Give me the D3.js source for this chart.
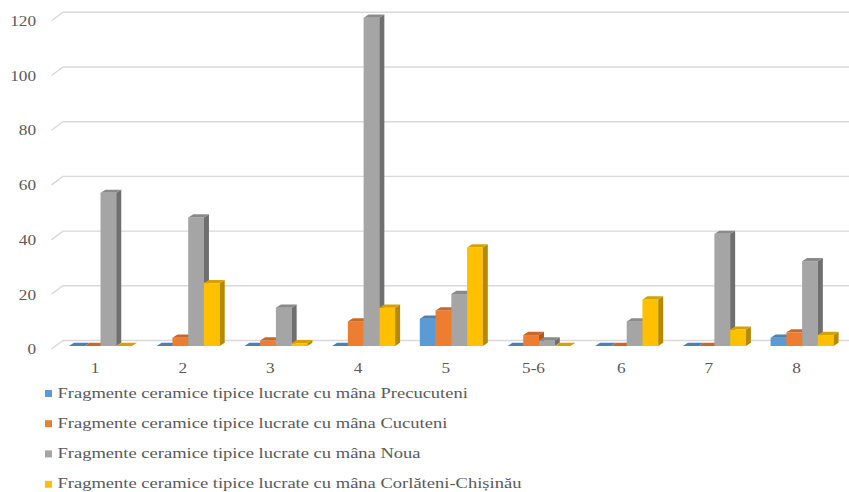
<!DOCTYPE html>
<html>
<head>
<meta charset="utf-8">
<script src="https://cdn.jsdelivr.net/npm/d3@7"></script>
<style>
  html, body { margin: 0; padding: 0; background: #ffffff; }
  svg { display: block; }
  svg text { font-family: "Liberation Serif", "Tinos", "Times New Roman", "DejaVu Serif", serif; }
</style>
</head>
<body>
<svg id="chart" width="849" height="492"></svg>
<script>
const categories = ["1", "2", "3", "4", "5", "5-6", "6", "7", "8"];
const seriesNames = [
  "Fragmente ceramice tipice lucrate cu mâna Precucuteni",
  "Fragmente ceramice tipice lucrate cu mâna Cucuteni",
  "Fragmente ceramice tipice lucrate cu mâna Noua",
  "Fragmente ceramice tipice lucrate cu mâna Corlăteni-Chișinău"
];
const precucuteni = [0, 0, 0, 0, 10, 0, 0, 0, 3];
const cucuteni    = [0, 3, 2, 9, 13, 4, 0, 0, 5];
const noua        = [56, 47, 14, 120, 19, 2, 9, 41, 31];
const corlateni   = [0, 23, 1, 14, 36, 0, 17, 6, 4];
const yTicks = [0, 20, 40, 60, 80, 100, 120];

const seriesValues = [precucuteni, cucuteni, noua, corlateni];
const frontColors = ["#5b9bd5", "#ed7d31", "#a5a5a5", "#ffc000"];
const topColors   = ["#4b81b3", "#c8692a", "#8a8a8a", "#d6a200"];
const sideColors  = ["#41719c", "#ad5a21", "#6f6f6f", "#b68a00"];

const svg = d3.select("#chart");
const textColor = "#595959";

const step = 87.7;
const x0 = 56.65;
const x = d3.scaleBand().domain(categories).range([x0, x0 + step * categories.length]).padding(0);
const groupW = 63;
const x1 = d3.scaleBand().domain(d3.range(4)).range([(step - groupW) / 2, (step + groupW) / 2]).padding(0);
const y = d3.scaleLinear().domain([0, 120]).range([346, 17.8]);

const backDy = -5.5, frontDy = 3;
const wallLeft = 63, floorLeft = 51.5;

// gridlines
const grid = svg.append("g");
yTicks.forEach(t => {
  const yb = y(t) + backDy, yf = y(t) + frontDy;
  grid.append("path")
    .attr("d", `M${floorLeft},${yf}L${wallLeft},${yb}L849,${yb}`)
    .attr("fill", "none").attr("stroke", "#d9d9d9").attr("stroke-width", 1.4);
});

// y labels
const sxAxis = 1.15;
yTicks.forEach(t => {
  svg.append("text")
    .attr("transform", `translate(36,${y(t) + frontDy}) scale(${sxAxis},1)`)
    .attr("text-anchor", "end").attr("dy", "0.35em")
    .attr("font-size", 15)
    .attr("fill", textColor).text(t);
});

// x labels
categories.forEach(c => {
  svg.append("text")
    .attr("transform", `translate(${x(c) + x.bandwidth() / 2 - 5.5},${368}) scale(${sxAxis},1)`)
    .attr("text-anchor", "middle").attr("dy", "0.35em")
    .attr("font-size", 15)
    .attr("fill", textColor).text(c);
});

// bars (3D)
const dx = 5, dz = 3.2;
const base = y(0);
const bars = svg.append("g");
categories.forEach((c, ci) => {
  seriesValues.forEach((vals, si) => {
    const v = vals[ci];
    const bx = x(c) + x1(si);
    const w = x1.bandwidth();
    const yt = y(v);
    if (v > 0) {
      bars.append("rect").attr("x", bx).attr("y", yt).attr("width", w).attr("height", base - yt)
        .attr("fill", frontColors[si]);
      bars.append("path")
        .attr("d", `M${bx + w},${yt}L${bx + w + dx},${yt - dz}L${bx + w + dx},${base - dz}L${bx + w},${base}Z`)
        .attr("fill", sideColors[si]);
    }
    bars.append("path")
      .attr("d", `M${bx},${yt}L${bx + w},${yt}L${bx + w + dx},${yt - dz}L${bx + dx},${yt - dz}Z`)
      .attr("fill", topColors[si]);
  });
});

// legend
const legend = svg.append("g");
const legY = [397.5, 427.7, 457.9, 488.3];
const legFs = 14.5;
let sxLeg = 1;
seriesNames.forEach((name, i) => {
  legend.append("rect").attr("x", 45).attr("y", legY[i] - 7.5).attr("width", 7).attr("height", 7)
    .attr("fill", frontColors[i]);
  const t = legend.append("text")
    .attr("font-size", legFs)
    .attr("fill", textColor).text(name);
  if (i === 0) {
    const len = t.node().getComputedTextLength();
    sxLeg = 411 / len;
  }
  t.attr("transform", `translate(57.5,${legY[i]}) scale(${sxLeg},1)`);
});
</script>
</body>
</html>
